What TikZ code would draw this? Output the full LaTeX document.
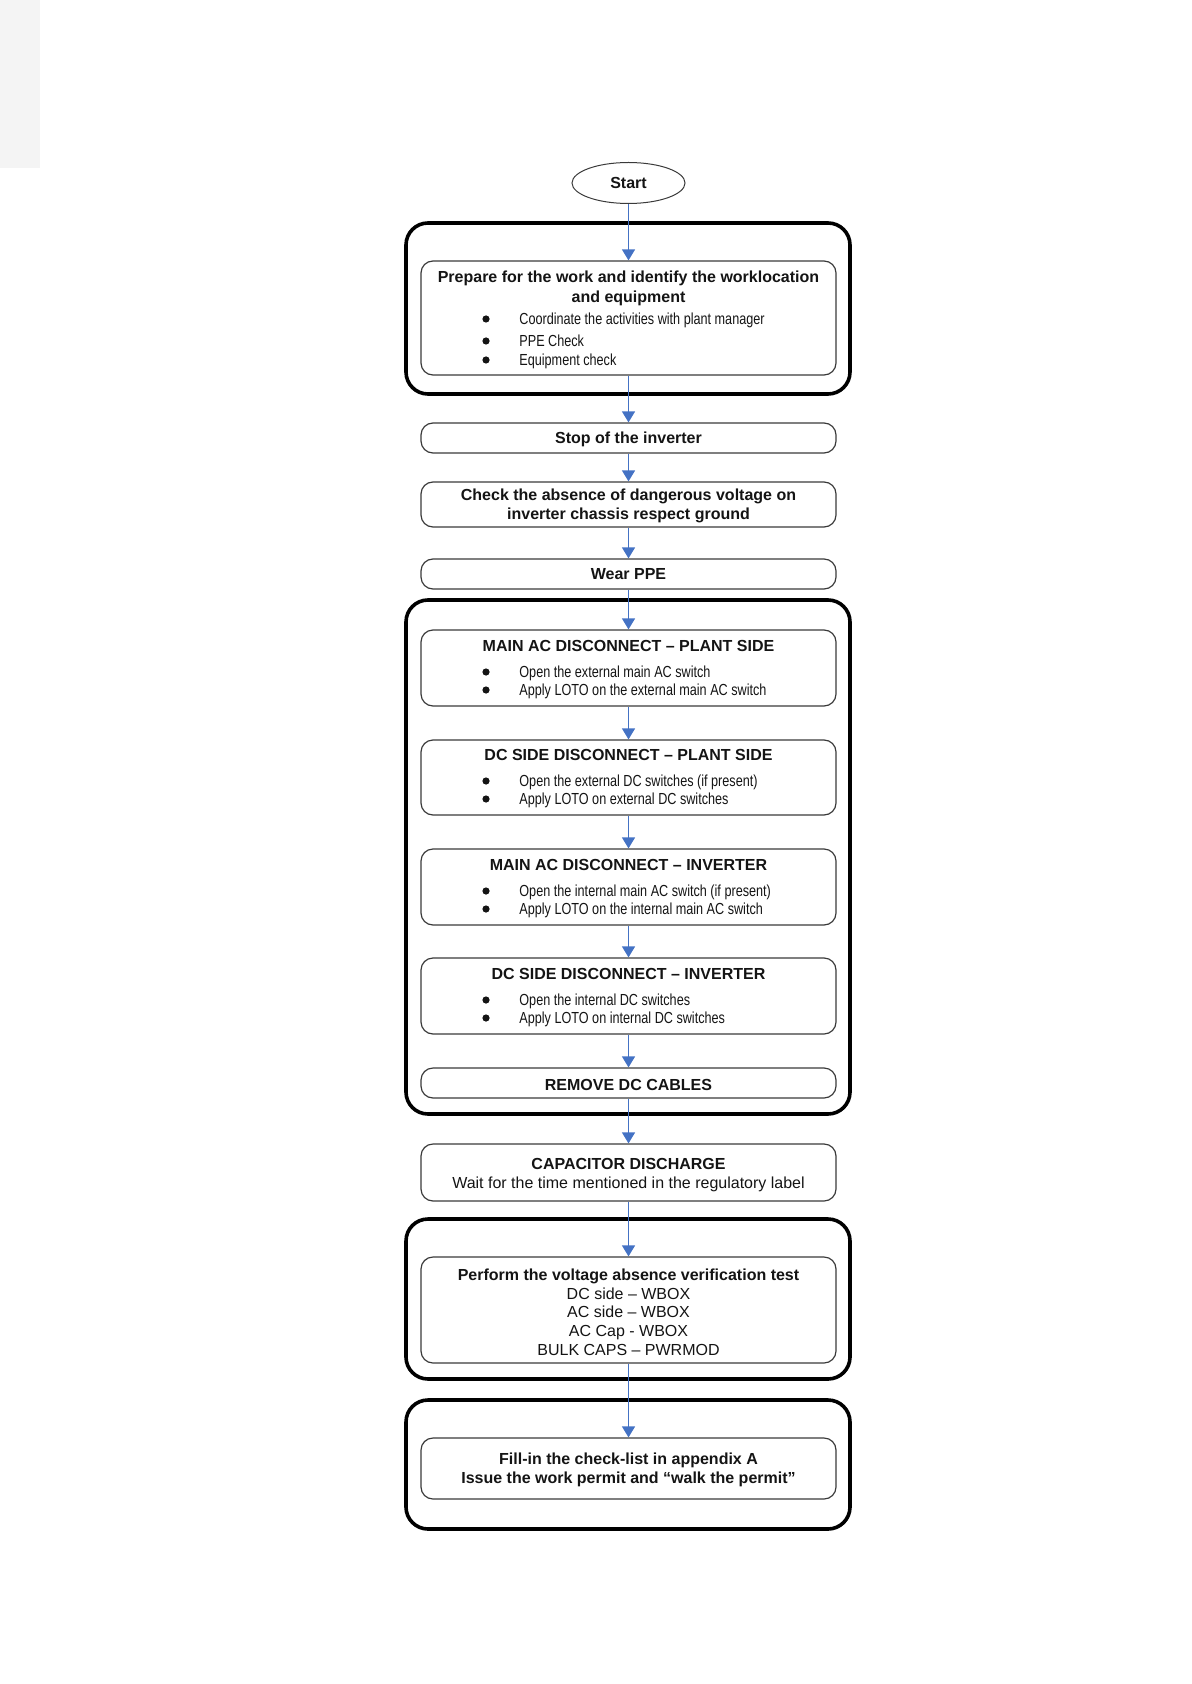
\documentclass[tikz,border=0pt]{standalone}
\usepackage{fontspec}
\setmainfont{Liberation Sans}
\newfontfamily\narrowfont[FakeStretch=0.79]{Liberation Sans}
\usetikzlibrary{arrows.meta,shapes.geometric}
\definecolor{flowblue}{HTML}{4472C4}
\definecolor{boxgray}{HTML}{3A3A3A}
\definecolor{pagegray}{HTML}{F4F4F4}
\definecolor{inkc}{HTML}{141414}
\tikzset{
 inbox/.style={draw=boxgray, line width=0.6pt, rounded corners=6pt, minimum width=207.5pt, inner sep=0pt},
 outbox/.style={draw=black, line width=1.8pt, rounded corners=11pt, minimum width=222pt, inner sep=0pt},
 startbox/.style={ellipse, draw=boxgray, line width=0.5pt, minimum width=56.5pt, minimum height=20.5pt, inner sep=0pt},
 flow/.style={draw=flowblue, line width=0.65pt, -{Triangle[width=6.5pt,length=5.5pt]}},
 ttl/.style={font=\fontsize{8.0}{9.5}\selectfont\bfseries, text=inkc, inner sep=0pt, anchor=base},
 txt/.style={font=\fontsize{8.0}{9.5}\selectfont, text=inkc, inner sep=0pt, anchor=base},
 itm/.style={font=\narrowfont\fontsize{8.0}{9.5}\selectfont, text=inkc, inner sep=0pt, anchor=base west},
 bul/.style={circle, fill=inkc, inner sep=0pt, minimum size=3.6pt},
}
\newcommand{\inbx}[3]{\node[inbox, minimum height={(#3-#2)*0.5pt}] (#1) at (628.5,{(#2+#3)/2}) {};}
\newcommand{\outbx}[3]{\node[outbox, minimum height={(#3-#2)*0.5pt}] (#1) at (628,{(#2+#3)/2}) {};}
\newcommand{\itemline}[3]{\node[bul] (#1b) at (486,#2) {}; \node[itm] (#1t) at (519,{#2+5.3}) {#3};}
\newcommand{\tline}[4]{\node[#1] (#2) at (628.5,{#3+6}) {#4};}
\begin{document}
\begin{tikzpicture}[x=0.5pt,y=-0.5pt]
\useasboundingbox (0,0) rectangle (1191,1684);
\fill[pagegray] (0,0) rectangle (40,168);
% outer frames
\outbx{o1}{223}{394}
\outbx{o2}{600}{1114}
\outbx{o3}{1219}{1379}
\outbx{o4}{1400}{1529}
% start
\node[startbox] (start) at (628.5,183) {};
\tline{ttl}{starttx}{183}{Start}
% inner boxes
\inbx{prep}{261}{375}
\inbx{stop}{423}{453}
\inbx{check}{482}{527}
\inbx{wear}{559}{589}
\inbx{mainac}{630}{706}
\inbx{dcplant}{740}{815}
\inbx{mainacinv}{849}{925}
\inbx{dcinv}{958}{1034}
\inbx{remove}{1068}{1098}
\inbx{cap}{1144}{1201}
\inbx{perform}{1257}{1363}
\inbx{fill}{1438}{1499}
% texts
\tline{ttl}{prept1}{277}{Prepare for the work and identify the worklocation}
\tline{ttl}{prept2}{297}{and equipment}
\itemline{pa}{319}{Coordinate the activities with plant manager}
\itemline{pb}{341}{PPE Check}
\itemline{pc}{360}{Equipment check}
\tline{ttl}{stoptx}{438}{Stop of the inverter}
\tline{ttl}{checkt1}{494}{Check the absence of dangerous voltage on}
\tline{ttl}{checkt2}{513}{inverter chassis respect ground}
\tline{ttl}{weartx}{573}{Wear PPE}
\tline{ttl}{mainactx}{645}{MAIN AC DISCONNECT – PLANT SIDE}
\itemline{ma}{672}{Open the external main AC switch}
\itemline{mb}{690}{Apply LOTO on the external main AC switch}
\tline{ttl}{dcplanttx}{754}{DC SIDE DISCONNECT – PLANT SIDE}
\itemline{da}{781}{Open the external DC switches (if present)}
\itemline{db}{799}{Apply LOTO on external DC switches}
\tline{ttl}{mainacinvtx}{864}{MAIN AC DISCONNECT – INVERTER}
\itemline{ia}{891}{Open the internal main AC switch (if present)}
\itemline{ib}{909}{Apply LOTO on the internal main AC switch}
\tline{ttl}{dcinvtx}{973}{DC SIDE DISCONNECT – INVERTER}
\itemline{ja}{1000}{Open the internal DC switches}
\itemline{jb}{1018}{Apply LOTO on internal DC switches}
\tline{ttl}{removetx}{1084}{REMOVE DC CABLES}
\tline{ttl}{capt1}{1163}{CAPACITOR DISCHARGE}
\tline{txt}{capt2}{1182}{Wait for the time mentioned in the regulatory label}
\tline{ttl}{perft1}{1274}{Perform the voltage absence verification test}
\tline{txt}{perft2}{1293}{DC side – WBOX}
\tline{txt}{perft3}{1311}{AC side – WBOX}
\tline{txt}{perft4}{1330}{AC Cap - WBOX}
\tline{txt}{perft5}{1349}{BULK CAPS – PWRMOD}
\tline{ttl}{fillt1}{1458}{Fill-in the check-list in appendix A}
\tline{ttl}{fillt2}{1477}{Issue the work permit and “walk the permit”}
% connectors
\draw[flow] (start) -- (prep);
\draw[flow] (prep) -- (stop);
\draw[flow] (stop) -- (check);
\draw[flow] (check) -- (wear);
\draw[flow] (wear) -- (mainac);
\draw[flow] (mainac) -- (dcplant);
\draw[flow] (dcplant) -- (mainacinv);
\draw[flow] (mainacinv) -- (dcinv);
\draw[flow] (dcinv) -- (remove);
\draw[flow] (remove) -- (cap);
\draw[flow] (cap) -- (perform);
\draw[flow] (perform) -- (fill);
\end{tikzpicture}
\end{document}
